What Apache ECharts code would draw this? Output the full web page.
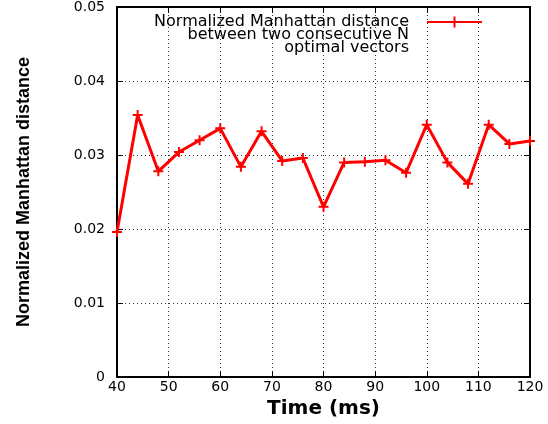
<!DOCTYPE html>
<html>
<head>
<meta charset="utf-8">
<script src="https://cdn.jsdelivr.net/npm/echarts@6/dist/echarts.min.js"></script>
<style>html,body{margin:0;padding:0;background:#fff;}#c{width:548px;height:424px;}</style>
</head>
<body>
<div id="c"></div>
<script>
const times = [40, 44, 48, 52, 56, 60, 64, 68, 72, 76, 80, 84, 88, 92, 96, 100, 104, 108, 112, 116, 120];
const distances = [0.0196, 0.0354, 0.0278, 0.0304, 0.0320, 0.0336, 0.0284, 0.0332, 0.0292, 0.0296, 0.0230, 0.0290, 0.0291, 0.0293, 0.0276, 0.0341, 0.0290, 0.0261, 0.0341, 0.0315, 0.0319];
const seriesName = 'Normalized Manhattan distance\nbetween two consecutive N\noptimal vectors';
const xTitle = 'Time (ms)';
const yTitle = 'Normalized Manhattan distance';

const chart = echarts.init(document.getElementById('c'), null, {renderer: 'canvas'});
const tickFont = {fontFamily: 'DejaVu Sans', fontSize: 14, color: '#000'};
const gridLine = {show: true, lineStyle: {color: '#333', type: [1, 3], width: 1}};
const plusSym = 'path://M0,5L10,5M5,0L5,10';
chart.setOption({
  animation: false,
  backgroundColor: '#fff',
  grid: {left: 117, right: 18, top: 7, bottom: 47},
  legend: {
    right: 65, top: -12, padding: 0,
    itemWidth: 55, itemHeight: 14,
    align: 'right',
    formatter: name => '\n\n' + name,
    textStyle: {fontFamily: 'DejaVu Sans', fontSize: 16, color: '#000', lineHeight: 13, padding: [0, 13, 0, 0]},
    data: [seriesName]
  },
  xAxis: [{
    type: 'value', min: 40, max: 120, interval: 10,
    name: xTitle, nameLocation: 'middle', nameGap: 22,
    nameTextStyle: {fontFamily: 'DejaVu Sans', fontWeight: 'bold', fontSize: 20, color: '#000'},
    axisLine: {show: true, onZero: false, lineStyle: {color: '#000', width: 2}},
    axisTick: {show: true, inside: true, length: 6, lineStyle: {color: '#000'}},
    axisLabel: Object.assign({margin: 3}, tickFont),
    splitLine: gridLine
  }, {
    type: 'value', min: 40, max: 120, interval: 10, position: 'top',
    axisLine: {show: true, onZero: false, lineStyle: {color: '#000', width: 2}},
    axisTick: {show: true, inside: true, length: 6, lineStyle: {color: '#000'}},
    axisLabel: {show: false}, splitLine: {show: false}
  }],
  yAxis: [{
    type: 'value', min: 0, max: 0.05, interval: 0.01,
    name: yTitle, nameLocation: 'middle', nameGap: 84, nameRotate: 90,
    nameTextStyle: {fontFamily: 'Liberation Sans', fontWeight: 'bold', fontSize: 18, color: '#000'},
    axisLine: {show: true, onZero: false, lineStyle: {color: '#000', width: 2}},
    axisTick: {show: true, inside: true, length: 6, lineStyle: {color: '#000'}},
    axisLabel: Object.assign({margin: 12, formatter: v => v === 0 ? '0' : v.toFixed(2)}, tickFont),
    splitLine: gridLine
  }, {
    type: 'value', min: 0, max: 0.05, interval: 0.01, position: 'right',
    axisLine: {show: true, onZero: false, lineStyle: {color: '#000', width: 2}},
    axisTick: {show: true, inside: true, length: 6, lineStyle: {color: '#000'}},
    axisLabel: {show: false}, splitLine: {show: false}
  }],
  series: [{
    name: seriesName,
    type: 'line',
    data: times.map((t, i) => [t, distances[i]]),
    symbol: plusSym,
    symbolSize: 10,
    showAllSymbol: true,
    lineStyle: {color: '#ff0000', width: 3},
    itemStyle: {color: '#ff0000', borderColor: '#ff0000', borderWidth: 2},
    clip: false
  }]
});
</script>
</body>
</html>
